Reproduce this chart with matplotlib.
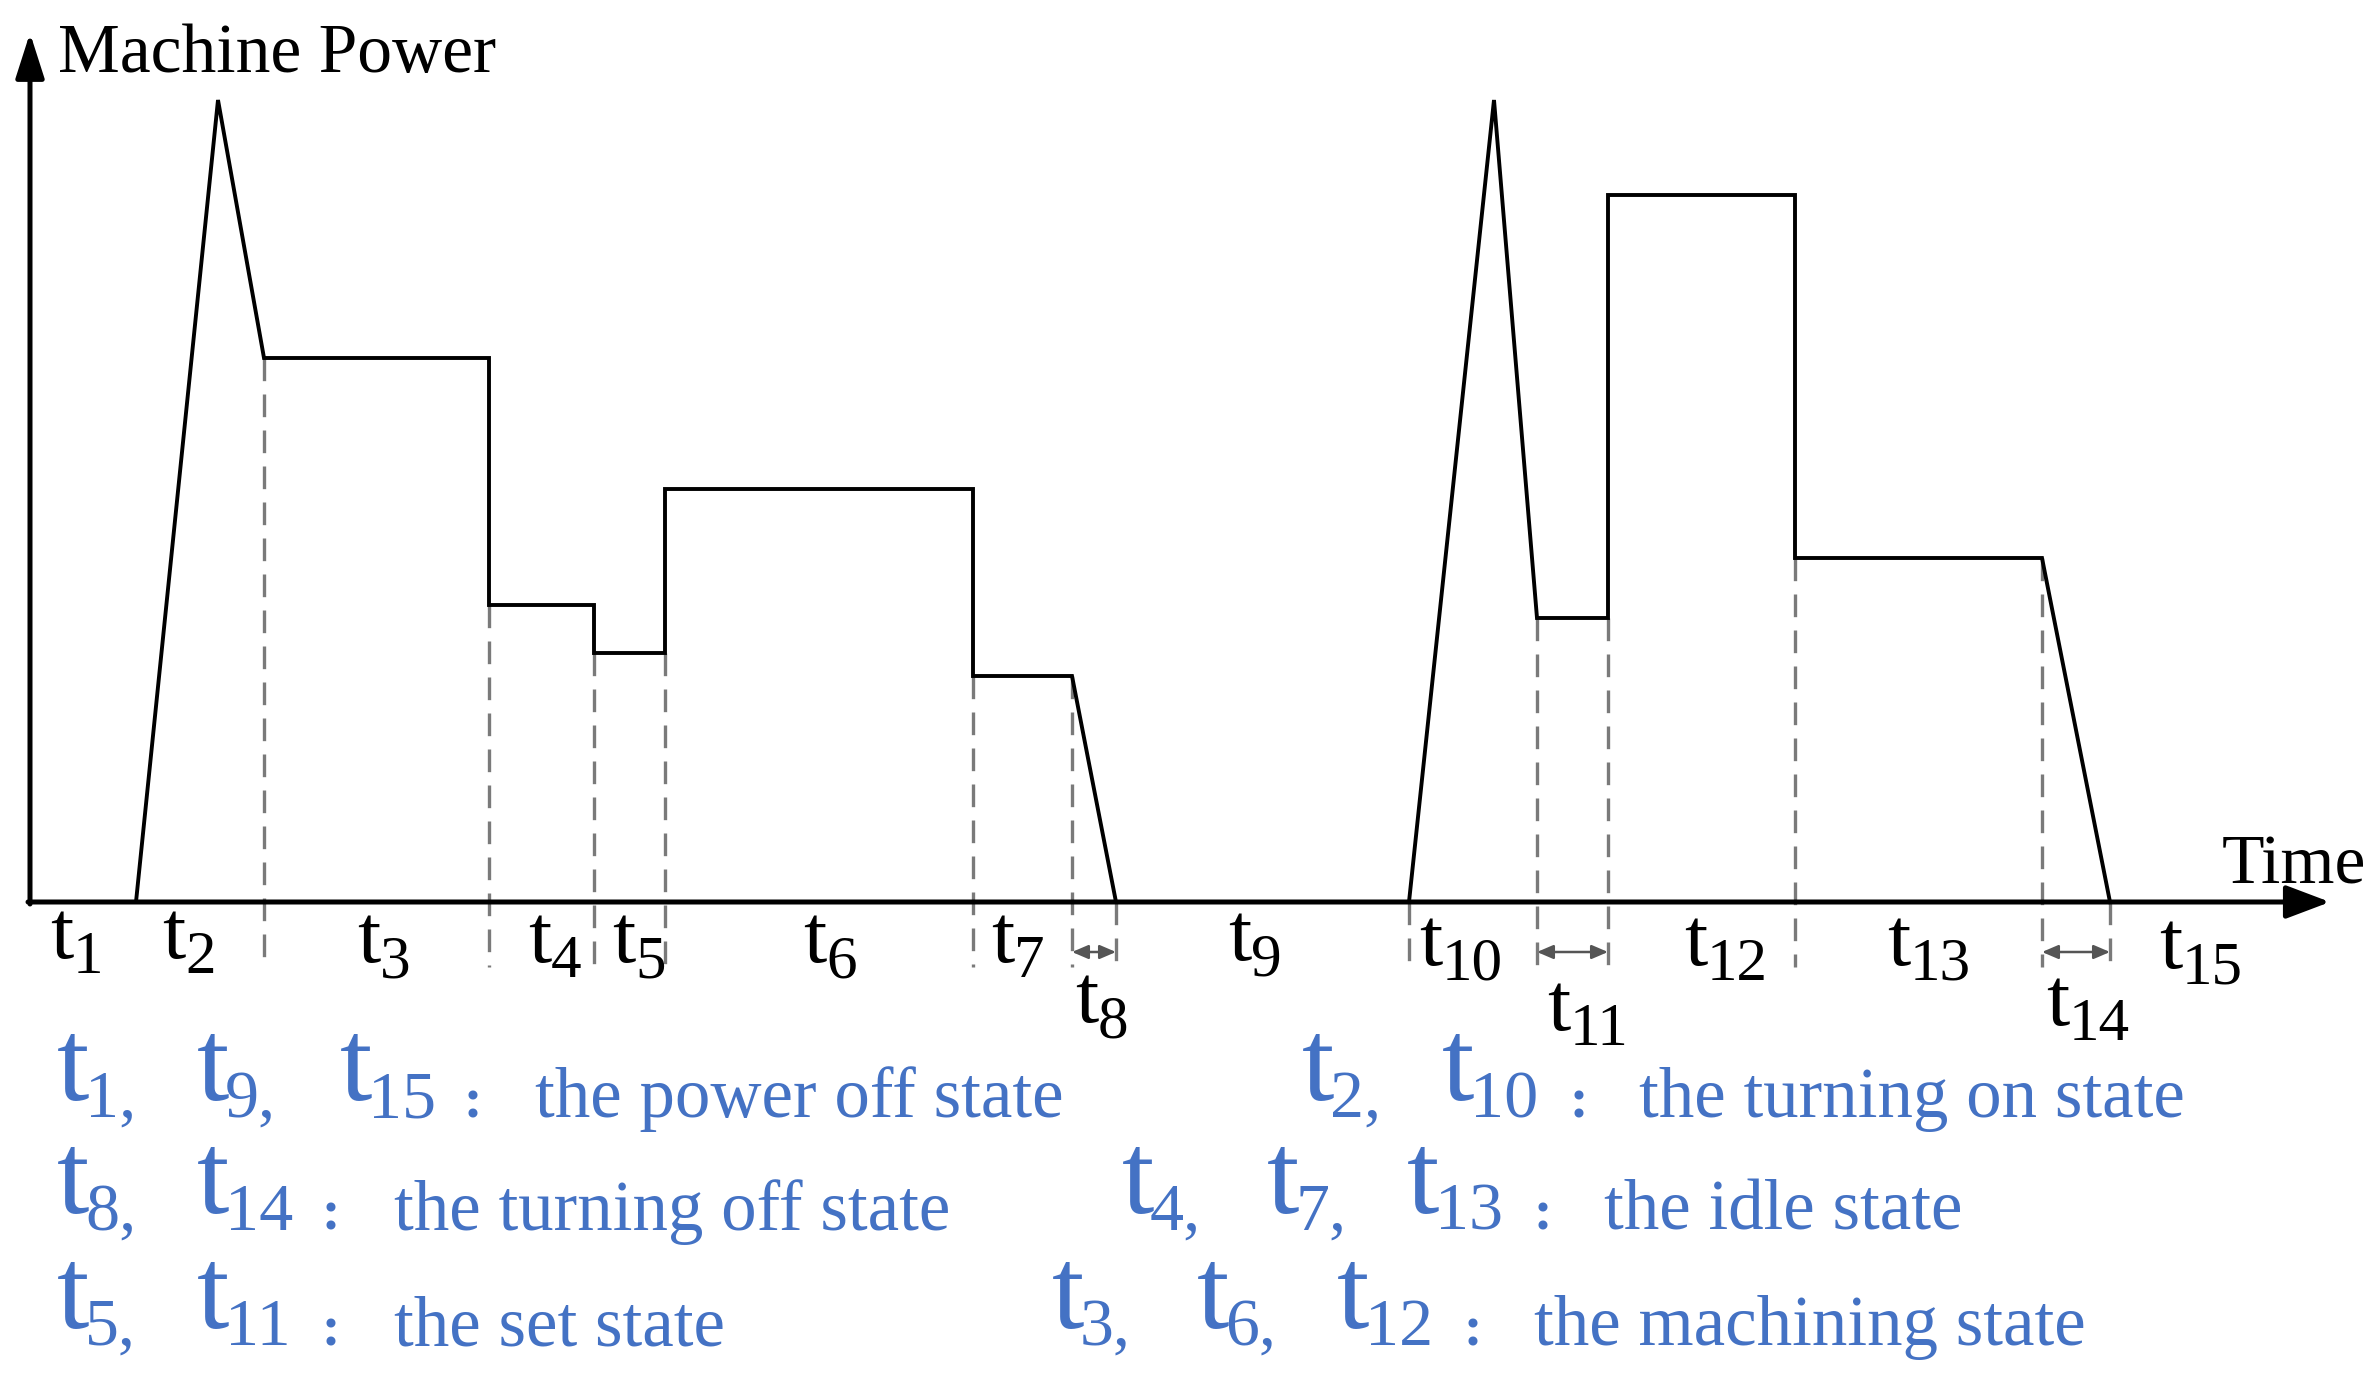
import matplotlib
matplotlib.use('Agg')
import matplotlib.pyplot as plt
import matplotlib.transforms as mtransforms

plt.rcParams['font.family'] = ['Liberation Serif', 'DejaVu Serif']

# machine power profile (time, power in arbitrary units)
time_pts = [0, 106, 188, 234, 459, 459, 564, 564, 635, 635, 943, 943, 1042,
            1086, 1379, 1464, 1507, 1578, 1578, 1765, 1765, 2012, 2080]
power_pts = [0, 0, 802, 544, 544, 297, 297, 249, 249, 413, 413, 226, 226,
             0, 0, 802, 284, 284, 707, 707, 344, 344, 0]

# state boundaries marked with dashed lines
bound_t = [234, 459, 564, 635, 943, 1042, 1086, 1379, 1507, 1578, 1765, 2012, 2080]
bound_top = [544, 297, 249, 249, 226, 226, 0, 0, 284, 284, 344, 344, 0]

# short states marked with a double arrow
short_spans = [(1042, 1086), (1507, 1578), (2012, 2080)]

seg_subs = ['1', '2', '3', '4', '5', '6', '7', '8', '9', '10', '11', '12', '13', '14', '15']

legend_rows = [
    (['1', '9', '15'], 'the power off state'),
    (['2', '10'], 'the turning on state'),
    (['8', '14'], 'the turning off state'),
    (['4', '7', '13'], 'the idle state'),
    (['5', '11'], 'the set state'),
    (['3', '6', '12'], 'the machining state'),
]

W, H = 2372, 1383
fig = plt.figure(figsize=(W / 100, H / 100), dpi=100)
ax = fig.add_axes([0, 0, 1, 1])
ax.set_xlim(-30, W - 30)
ax.set_ylim(902 - H, 902)
ax.axis('off')

# pixel coordinates, origin top-left
pix = mtransforms.Affine2D().scale(1.0 / W, -1.0 / H).translate(0, 1) + fig.transFigure

# axes with arrows
ax.annotate('', xy=(2300, 0), xytext=(-2, 0),
            arrowprops=dict(arrowstyle='-|>,head_length=0.45,head_width=0.17',
                            mutation_scale=60, lw=3.6, color='black',
                            shrinkA=0, shrinkB=0))
ax.annotate('', xy=(0, 869), xytext=(0, -2),
            arrowprops=dict(arrowstyle='-|>,head_length=0.5,head_width=0.16',
                            mutation_scale=55, lw=3.6, color='black',
                            shrinkA=0, shrinkB=0))

ax.text(58, 72, 'Machine Power', transform=pix, fontsize=50, va='baseline')
ax.text(2222, 883, 'Time', transform=pix, fontsize=50, va='baseline')

# dashed boundaries
for t, top in zip(bound_t, bound_top):
    ax.plot([t, t], [top, -65], color='#7a7a7a', lw=2.4, dashes=(6.8, 4.0), zorder=1)

ax.plot(time_pts, power_pts, color='black', lw=2.8, solid_joinstyle='miter', zorder=3)

for a, b in short_spans:
    ax.annotate('', xy=(b, -50), xytext=(a, -50),
                arrowprops=dict(arrowstyle='<|-|>,head_length=0.7,head_width=0.3',
                                mutation_scale=14, lw=1.8, color='#555555',
                                shrinkA=0, shrinkB=0))


def t_label(x, y, sub, big, small, drop, gap, color, tail=''):
    ax.text(x, y, 't', transform=pix, fontsize=big, va='baseline', color=color)
    ax.text(x + gap, y + drop, sub + tail, transform=pix, fontsize=small,
            va='baseline', color=color)


# segment labels under the time axis
lab_x = [50, 162, 357, 528, 612, 803, 991, 1075, 1228, 1419, 1547, 1684, 1887, 2046, 2159]
lab_y = [958, 958, 962, 962, 962, 962, 962, 1022, 960, 965, 1030, 965, 965, 1025, 968]
for s, x, y in zip(seg_subs, lab_x, lab_y):
    t_label(x, y, s, 60, 44, 15, 23, 'black')

# state legend in blue
blue = '#4472C4'
row_layout = [
    ([57, 197, 340], 463, 535, 1117),
    ([1302, 1442], 1569, 1639, 1117),
    ([57, 197], 321, 394, 1230),
    ([1122, 1267, 1407], 1534, 1604, 1230),
    ([57, 197], 321, 394, 1345),
    ([1052, 1197, 1337], 1464, 1534, 1345),
]
for (subs, desc), (xs, colon_x, desc_x, base) in zip(legend_rows, row_layout):
    for i, (s, x) in enumerate(zip(subs, xs)):
        tail = ',' if i < len(subs) - 1 else ''
        t_label(x, base - 17, s, 84, 49, 17, 28, blue, tail)
    ax.text(colon_x, base, ':', transform=pix, fontsize=40, fontweight='bold',
            va='baseline', color=blue)
    ax.text(desc_x, base, desc, transform=pix, fontsize=51, va='baseline', color=blue)

fig.savefig('out.png', dpi=100)
